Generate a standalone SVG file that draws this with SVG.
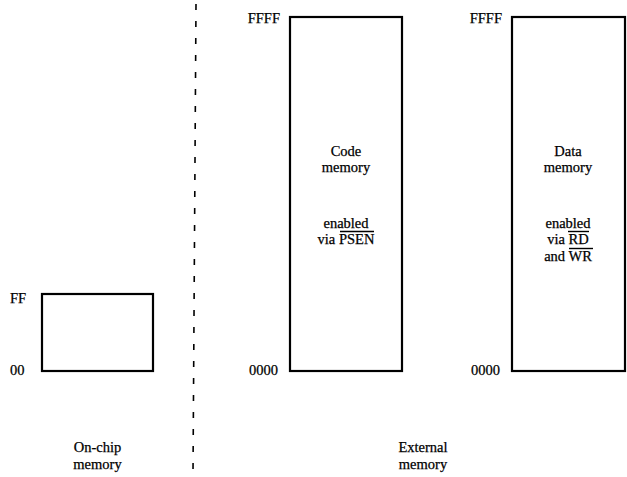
<svg xmlns="http://www.w3.org/2000/svg" width="627" height="477" viewBox="0 0 627 477">
<style>
.box{fill:none;stroke:#000;stroke-width:2.2}
.t{font-family:"Liberation Serif","Times New Roman",serif;font-size:14.5px;fill:#000;stroke:#000;stroke-width:0.25}
.c{text-anchor:middle}
.r{text-anchor:end}
.ov{stroke:#000;stroke-width:1.4}
.div{stroke:#000;stroke-width:1.6;stroke-dasharray:6 11;fill:none}
</style>
<rect width="627" height="477" fill="#fff"/>
<g id="divider">
<line class="div" x1="196" y1="4" x2="193" y2="474"/>
</g>
<g id="onchip">
<rect class="box" x="42" y="294" width="111" height="77"/>
<text class="t" x="10" y="303">FF</text>
<text class="t" x="10" y="375">00</text>
<text class="t c" x="97.5" y="452">On-chip</text>
<text class="t c" x="97.5" y="469">memory</text>
</g>
<g id="code">
<rect class="box" x="290" y="17" width="112" height="354"/>
<text class="t r" x="280" y="23">FFFF</text>
<text class="t r" x="278" y="375">0000</text>
<text class="t c" x="346" y="156">Code</text>
<text class="t c" x="346" y="172">memory</text>
<text class="t c" x="346" y="228">enabled</text>
<text class="t c" x="346" y="244">via PSEN</text>
<line class="ov" x1="340" y1="231.5" x2="374" y2="231.5"/>
</g>
<g id="data">
<rect class="box" x="512" y="17" width="113" height="354"/>
<text class="t r" x="502" y="23">FFFF</text>
<text class="t r" x="500" y="375">0000</text>
<text class="t c" x="568" y="156">Data</text>
<text class="t c" x="568" y="172">memory</text>
<text class="t c" x="568" y="228">enabled</text>
<text class="t c" x="568" y="244">via RD</text>
<text class="t c" x="568" y="261">and WR</text>
<line class="ov" x1="568" y1="231.5" x2="589" y2="231.5"/>
<line class="ov" x1="569" y1="248.5" x2="593" y2="248.5"/>
</g>
<g id="external">
<text class="t c" x="423" y="452">External</text>
<text class="t c" x="423" y="469">memory</text>
</g>
</svg>
